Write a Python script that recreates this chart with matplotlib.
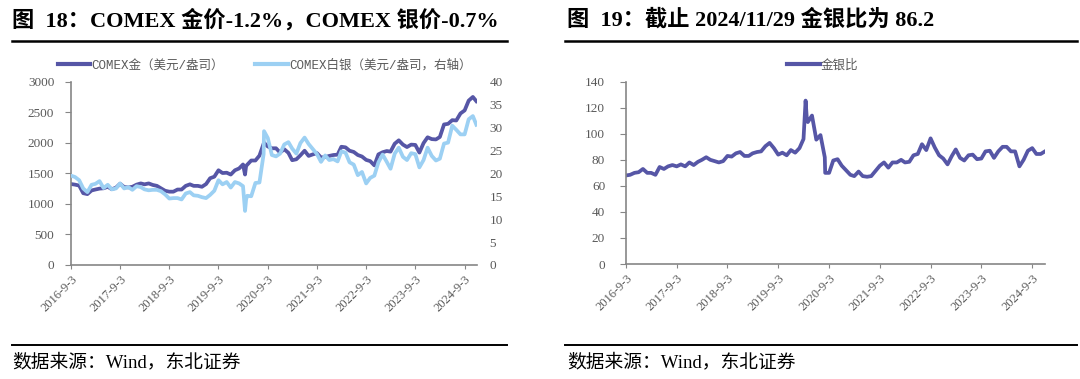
import matplotlib
matplotlib.use('Agg')
from matplotlib import pyplot as plt
from matplotlib.lines import Line2D
import pandas as pd

plt.rcParams['font.family'] = ['Liberation Serif', 'Noto Sans CJK SC']

# Values on the 3rd of each month, Sep 2016 .. Nov 2024
gold = [1325, 1315, 1300, 1175,
        1160, 1220, 1235, 1250, 1255, 1280, 1240, 1265, 1330, 1275, 1270, 1280,
        1315, 1335, 1320, 1335, 1310, 1295, 1255, 1215, 1200, 1200, 1235, 1235,
        1295, 1320, 1295, 1295, 1280, 1325, 1420, 1445, 1550, 1505, 1510, 1480,
        1550, 1580, 1645, 1640, 1710, 1710, 1790, 1985, 1940, 1910, 1910, 1840,
        1895, 1835, 1715, 1730, 1795, 1870, 1785, 1810, 1830, 1760, 1765, 1785,
        1800, 1805, 1935, 1925, 1870, 1850, 1800, 1775, 1720, 1700, 1630, 1810,
        1845, 1865, 1855, 1985, 2040, 1970, 1930, 1970, 1965, 1840, 1995, 2090,
        2060, 2055, 2095, 2300, 2310, 2370, 2365, 2480, 2530, 2690, 2750]
silver = [19.5, 19.2, 18.5, 16.7,
          15.9, 17.5, 17.7, 18.3, 16.8, 17.5, 16.5, 16.7, 17.8, 16.7, 17.0, 16.4,
          17.2, 17.0, 16.5, 16.3, 16.4, 16.4, 16.1, 15.4, 14.5, 14.6, 14.6, 14.3,
          15.6, 15.9, 15.2, 15.1, 14.8, 14.6, 15.3, 16.2, 18.5, 17.6, 18.1, 16.9,
          18.1, 17.8, 17.2, 15.1, 15.0, 17.9, 18.0, 24.2, 27.7, 24.0, 23.7, 24.3,
          26.3, 26.8, 25.4, 24.3, 26.6, 27.8, 26.4, 25.3, 24.2, 22.5, 23.9, 22.9,
          23.1, 22.6, 24.8, 24.5, 22.4, 21.9, 19.6, 20.3, 17.8, 19.0, 19.5, 22.4,
          24.1, 22.5, 21.0, 24.3, 25.6, 23.6, 22.9, 24.4, 24.2, 21.3, 22.9, 25.6,
          23.8, 22.8, 23.2, 26.5, 26.7, 30.4, 29.5, 28.5, 28.5, 31.8, 32.5]
ratio = [68, 68.5, 70, 70.5,
         73, 70, 70, 68.5, 74.5, 73, 75, 76, 75, 76.5, 75, 78,
         76, 78.5, 80, 82, 80, 79, 78, 79, 83, 82.5, 85, 86,
         83, 83, 85, 86, 86.5, 90.5, 93, 89, 84, 85.5, 83.5, 87.5,
         85.5, 89, 96, 109, 114, 95.5, 99, 82, 70, 79.5, 80.5, 75.5,
         72, 68.5, 67.5, 71, 67.5, 67, 67.5, 71.5, 75.5, 78, 74, 78,
         78, 80, 78, 78.5, 83.5, 84.5, 92, 87.5, 96.5, 89.5, 83.5, 81,
         76.5, 83, 88, 81.5, 79.5, 83.5, 84, 80.5, 81, 86.5, 87, 81.5,
         86.5, 90, 90, 86.5, 86.5, 75, 80, 87, 89, 84.5, 84.5]

# last trading day shown
end_date = '2024-11-29'
gold_end, silver_end, ratio_end = 2680, 30.6, 86.2

# extra points around the 2020 crash and the Aug 2020 top
spike_dates = ['2020-03-18', '2020-03-26', '2020-08-06']
gold_spike = [1480, 1620, 2000]
silver_spike = [11.8, 14.3, 29.2]
ratio_spike = [125.5, 113, 70]

months = pd.date_range('2016-09-03', periods=len(gold), freq=pd.DateOffset(months=1))
idx = list(months) + [pd.Timestamp(end_date)] + [pd.Timestamp(d) for d in spike_dates]

gold_s = pd.Series(gold + [gold_end] + gold_spike, index=idx).sort_index()
silver_s = pd.Series(silver + [silver_end] + silver_spike, index=idx).sort_index()
ratio_s = pd.Series(ratio + [ratio_end] + ratio_spike, index=idx).sort_index()

tick_dates = pd.date_range('2016-09-03', periods=9, freq=pd.DateOffset(years=1))
tick_labels = [f'{d.year}-{d.month}-{d.day}' for d in tick_dates]
x_min, x_max = pd.Timestamp('2016-09-03'), pd.Timestamp('2024-12-04')

GOLD = '#5656A6'
SILVER = '#9CD0F3'
GREY = '#868686'
TXT = '#595959'

fig = plt.figure(figsize=(10.8, 3.79), dpi=100)


def style_axes(ax):
    for side in ['top', 'right']:
        ax.spines[side].set_visible(False)
    for side in ['left', 'bottom']:
        ax.spines[side].set_color(GREY)
        ax.spines[side].set_linewidth(1.2)
    ax.set_xlim(x_min, x_max)
    ax.set_xticks(tick_dates)
    ax.set_xticklabels(tick_labels, rotation=45, ha='right', rotation_mode='anchor')
    ax.tick_params(axis='x', colors=GREY, labelcolor=TXT, labelsize=9, length=3, pad=3)
    ax.tick_params(axis='y', colors=GREY, labelcolor=TXT, labelsize=9.5, length=4, pad=8)


# ---- left: COMEX gold and silver ----
ax1 = fig.add_axes([0.0657, 0.3008, 0.376, 0.4837])
ax1.plot(gold_s.index, gold_s.values, color=GOLD, lw=2.7)
ax1.set_ylim(0, 3000)
ax1.set_yticks(range(0, 3001, 500))
style_axes(ax1)

ax2 = ax1.twinx()
ax2.plot(silver_s.index, silver_s.values, color=SILVER, lw=2.7)
ax2.set_ylim(0, 40)
ax2.set_yticks(range(0, 41, 5))
for side in ax2.spines:
    ax2.spines[side].set_visible(False)
ax2.tick_params(axis='y', length=0, labelcolor=TXT, labelsize=9.5, pad=9)
ax2.set_xlim(x_min, x_max)

handles = [Line2D([], [], color=GOLD, lw=3), Line2D([], [], color=SILVER, lw=3)]
fig.legend(handles, ['COMEX金（美元/盎司）', 'COMEX白银（美元/盎司，右轴）'],
           loc='center', bbox_to_anchor=(0.245, 0.828), ncol=2, frameon=False,
           handlelength=2.6, handletextpad=0.1, columnspacing=2.5,
           labelcolor=TXT, prop={'family': ['Liberation Mono', 'Noto Sans CJK SC'], 'size': 9})

# ---- right: gold/silver ratio ----
ax3 = fig.add_axes([0.5796, 0.3034, 0.388, 0.481])
ax3.plot(ratio_s.index, ratio_s.values, color=GOLD, lw=2.7)
ax3.set_ylim(0, 140)
ax3.set_yticks(range(0, 141, 20))
style_axes(ax3)
ax3.tick_params(axis='y', pad=11)

fig.legend([Line2D([], [], color=GOLD, lw=3)], ['金银比'],
           loc='center', bbox_to_anchor=(0.762, 0.828), frameon=False,
           handlelength=2.6, handletextpad=0.1, labelcolor=TXT,
           prop={'family': ['Noto Sans CJK SC'], 'size': 9})

# ---- titles, rules and source notes ----
title_font = {'family': ['Liberation Serif', 'Noto Sans CJK SC'], 'weight': 'bold', 'size': 16}
fig.text(12 / 1080, 0.947, '图  18：COMEX 金价-1.2%，COMEX 银价-0.7%', va='center', ha='left', **title_font)
fig.text(567 / 1080, 0.947, '图  19：截止 2024/11/29 金银比为 86.2', va='center', ha='left', **title_font)

for x0, x1 in [(12, 507), (565, 1077)]:
    fig.add_artist(Line2D([x0 / 1080, x1 / 1080], [0.892, 0.892], color='black', lw=1.8,
                          transform=fig.transFigure))
    fig.add_artist(Line2D([x0 / 1080, x1 / 1080], [0.09, 0.09], color='black', lw=1.4,
                          transform=fig.transFigure))

src_font = {'family': ['Liberation Serif', 'Noto Sans CJK SC'], 'size': 13.5}
fig.text(12 / 1080, 0.045, '数据来源：Wind，东北证券', va='center', ha='left', **src_font)
fig.text(567 / 1080, 0.045, '数据来源：Wind，东北证券', va='center', ha='left', **src_font)

plt.savefig('out.png', dpi=100)
